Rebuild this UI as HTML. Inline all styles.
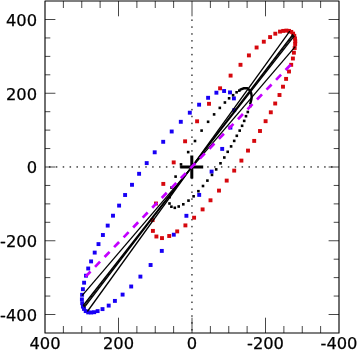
<!DOCTYPE html>
<html><head><meta charset="utf-8"><title>plot</title><style>html,body{margin:0;padding:0;background:#fff}svg{display:block}</style></head><body>
<svg width="357" height="351" viewBox="0 0 357 351">
<rect width="357" height="351" fill="#fff"/>
<g fill="#333"><rect x="331.02" y="166.25" width="1.5" height="1.4"/><rect x="324.14" y="166.25" width="1.5" height="1.4"/><rect x="317.26" y="166.25" width="1.5" height="1.4"/><rect x="310.38" y="166.25" width="1.5" height="1.4"/><rect x="303.50" y="166.25" width="1.5" height="1.4"/><rect x="296.62" y="166.25" width="1.5" height="1.4"/><rect x="289.74" y="166.25" width="1.5" height="1.4"/><rect x="282.86" y="166.25" width="1.5" height="1.4"/><rect x="275.98" y="166.25" width="1.5" height="1.4"/><rect x="269.10" y="166.25" width="1.5" height="1.4"/><rect x="262.22" y="166.25" width="1.5" height="1.4"/><rect x="255.34" y="166.25" width="1.5" height="1.4"/><rect x="248.46" y="166.25" width="1.5" height="1.4"/><rect x="241.58" y="166.25" width="1.5" height="1.4"/><rect x="234.70" y="166.25" width="1.5" height="1.4"/><rect x="227.82" y="166.25" width="1.5" height="1.4"/><rect x="220.94" y="166.25" width="1.5" height="1.4"/><rect x="214.06" y="166.25" width="1.5" height="1.4"/><rect x="207.18" y="166.25" width="1.5" height="1.4"/><rect x="200.30" y="166.25" width="1.5" height="1.4"/><rect x="193.42" y="166.25" width="1.5" height="1.4"/><rect x="186.54" y="166.25" width="1.5" height="1.4"/><rect x="179.66" y="166.25" width="1.5" height="1.4"/><rect x="172.78" y="166.25" width="1.5" height="1.4"/><rect x="165.90" y="166.25" width="1.5" height="1.4"/><rect x="159.02" y="166.25" width="1.5" height="1.4"/><rect x="152.14" y="166.25" width="1.5" height="1.4"/><rect x="145.26" y="166.25" width="1.5" height="1.4"/><rect x="138.38" y="166.25" width="1.5" height="1.4"/><rect x="131.50" y="166.25" width="1.5" height="1.4"/><rect x="124.62" y="166.25" width="1.5" height="1.4"/><rect x="117.74" y="166.25" width="1.5" height="1.4"/><rect x="110.86" y="166.25" width="1.5" height="1.4"/><rect x="103.98" y="166.25" width="1.5" height="1.4"/><rect x="97.10" y="166.25" width="1.5" height="1.4"/><rect x="90.22" y="166.25" width="1.5" height="1.4"/><rect x="83.34" y="166.25" width="1.5" height="1.4"/><rect x="76.46" y="166.25" width="1.5" height="1.4"/><rect x="69.58" y="166.25" width="1.5" height="1.4"/><rect x="62.70" y="166.25" width="1.5" height="1.4"/><rect x="55.82" y="166.25" width="1.5" height="1.4"/><rect x="48.94" y="166.25" width="1.5" height="1.4"/><rect x="191.25" y="19.45" width="1.4" height="1.5"/><rect x="191.25" y="26.33" width="1.4" height="1.5"/><rect x="191.25" y="33.21" width="1.4" height="1.5"/><rect x="191.25" y="40.09" width="1.4" height="1.5"/><rect x="191.25" y="46.97" width="1.4" height="1.5"/><rect x="191.25" y="53.85" width="1.4" height="1.5"/><rect x="191.25" y="60.73" width="1.4" height="1.5"/><rect x="191.25" y="67.61" width="1.4" height="1.5"/><rect x="191.25" y="74.49" width="1.4" height="1.5"/><rect x="191.25" y="81.37" width="1.4" height="1.5"/><rect x="191.25" y="88.25" width="1.4" height="1.5"/><rect x="191.25" y="95.13" width="1.4" height="1.5"/><rect x="191.25" y="102.01" width="1.4" height="1.5"/><rect x="191.25" y="108.89" width="1.4" height="1.5"/><rect x="191.25" y="115.77" width="1.4" height="1.5"/><rect x="191.25" y="122.65" width="1.4" height="1.5"/><rect x="191.25" y="129.53" width="1.4" height="1.5"/><rect x="191.25" y="136.41" width="1.4" height="1.5"/><rect x="191.25" y="143.29" width="1.4" height="1.5"/><rect x="191.25" y="150.17" width="1.4" height="1.5"/><rect x="191.25" y="157.05" width="1.4" height="1.5"/><rect x="191.25" y="163.93" width="1.4" height="1.5"/><rect x="191.25" y="170.81" width="1.4" height="1.5"/><rect x="191.25" y="177.69" width="1.4" height="1.5"/><rect x="191.25" y="184.57" width="1.4" height="1.5"/><rect x="191.25" y="191.45" width="1.4" height="1.5"/><rect x="191.25" y="198.33" width="1.4" height="1.5"/><rect x="191.25" y="205.21" width="1.4" height="1.5"/><rect x="191.25" y="212.09" width="1.4" height="1.5"/><rect x="191.25" y="218.97" width="1.4" height="1.5"/><rect x="191.25" y="225.85" width="1.4" height="1.5"/><rect x="191.25" y="232.73" width="1.4" height="1.5"/><rect x="191.25" y="239.61" width="1.4" height="1.5"/><rect x="191.25" y="246.49" width="1.4" height="1.5"/><rect x="191.25" y="253.37" width="1.4" height="1.5"/><rect x="191.25" y="260.25" width="1.4" height="1.5"/><rect x="191.25" y="267.13" width="1.4" height="1.5"/><rect x="191.25" y="274.01" width="1.4" height="1.5"/><rect x="191.25" y="280.89" width="1.4" height="1.5"/><rect x="191.25" y="287.77" width="1.4" height="1.5"/><rect x="191.25" y="294.65" width="1.4" height="1.5"/><rect x="191.25" y="301.53" width="1.4" height="1.5"/><rect x="191.25" y="308.41" width="1.4" height="1.5"/><rect x="191.25" y="315.29" width="1.4" height="1.5"/><rect x="191.25" y="322.17" width="1.4" height="1.5"/><rect x="191.25" y="329.05" width="1.4" height="1.5"/></g>
<rect x="45.0" y="1.0" width="294.0" height="332.0" fill="none" stroke="#000" stroke-width="1.12" stroke-linejoin="round"/>
<path d="M320.62 333.0v-7.0M320.62 1.0v7.0M302.25 333.0v-7.0M302.25 1.0v7.0M283.88 333.0v-7.0M283.88 1.0v7.0M265.50 333.0v-15.3M265.50 1.0v15.3M247.12 333.0v-7.0M247.12 1.0v7.0M228.75 333.0v-7.0M228.75 1.0v7.0M210.38 333.0v-7.0M210.38 1.0v7.0M192.00 333.0v-15.3M192.00 1.0v15.3M173.62 333.0v-7.0M173.62 1.0v7.0M155.25 333.0v-7.0M155.25 1.0v7.0M136.88 333.0v-7.0M136.88 1.0v7.0M118.50 333.0v-15.3M118.50 1.0v15.3M100.12 333.0v-7.0M100.12 1.0v7.0M81.75 333.0v-7.0M81.75 1.0v7.0M63.38 333.0v-7.0M63.38 1.0v7.0M45.0 314.50h10.4M339.0 314.50h-10.4M45.0 296.06h5.3M339.0 296.06h-5.3M45.0 277.62h5.3M339.0 277.62h-5.3M45.0 259.19h5.3M339.0 259.19h-5.3M45.0 240.75h10.4M339.0 240.75h-10.4M45.0 222.31h5.3M339.0 222.31h-5.3M45.0 203.88h5.3M339.0 203.88h-5.3M45.0 185.44h5.3M339.0 185.44h-5.3M45.0 167.00h10.4M339.0 167.00h-10.4M45.0 148.56h5.3M339.0 148.56h-5.3M45.0 130.12h5.3M339.0 130.12h-5.3M45.0 111.69h5.3M339.0 111.69h-5.3M45.0 93.25h10.4M339.0 93.25h-10.4M45.0 74.81h5.3M339.0 74.81h-5.3M45.0 56.38h5.3M339.0 56.38h-5.3M45.0 37.94h5.3M339.0 37.94h-5.3M45.0 19.50h10.4M339.0 19.50h-10.4" stroke="#000" stroke-width="0.72" fill="none"/>
<g font-family="DejaVu Sans, Liberation Sans, sans-serif" font-size="16.3" fill="#000" stroke="#000" stroke-width="0.25">
<text x="45.00" y="349.4" text-anchor="middle">400</text>
<text x="37" y="25.80" text-anchor="end">400</text>
<text x="118.50" y="349.4" text-anchor="middle">200</text>
<text x="37" y="99.55" text-anchor="end">200</text>
<text x="192.00" y="349.4" text-anchor="middle">0</text>
<text x="37" y="173.30" text-anchor="end">0</text>
<text x="265.50" y="349.4" text-anchor="middle">-200</text>
<text x="37" y="247.05" text-anchor="end">-200</text>
<text x="339.00" y="349.4" text-anchor="middle">-400</text>
<text x="37" y="320.80" text-anchor="end">-400</text>
</g>
<g fill="#1800f5"><rect x="161.25" y="139.85" width="3.9" height="3.9"/><rect x="169.75" y="129.55" width="3.9" height="3.9"/><rect x="178.85" y="119.85" width="3.9" height="3.9"/><rect x="187.85" y="110.75" width="3.9" height="3.9"/><rect x="197.15" y="102.75" width="3.9" height="3.9"/><rect x="206.15" y="95.85" width="3.9" height="3.9"/><rect x="214.45" y="90.75" width="3.9" height="3.9"/><rect x="222.15" y="89.05" width="3.9" height="3.9"/><rect x="228.05" y="90.45" width="3.9" height="3.9"/><rect x="231.95" y="96.45" width="3.9" height="3.9"/><rect x="232.25" y="108.25" width="3.9" height="3.9"/><rect x="228.45" y="125.65" width="3.9" height="3.9"/><rect x="220.25" y="146.95" width="3.9" height="3.9"/><rect x="209.65" y="169.65" width="3.9" height="3.9"/><rect x="197.25" y="192.95" width="3.9" height="3.9"/><rect x="184.45" y="213.85" width="3.9" height="3.9"/><rect x="171.85" y="232.75" width="3.9" height="3.9"/><rect x="159.85" y="248.95" width="3.9" height="3.9"/><rect x="148.65" y="263.05" width="3.9" height="3.9"/><rect x="138.45" y="274.65" width="3.9" height="3.9"/><rect x="129.25" y="284.55" width="3.9" height="3.9"/><rect x="120.65" y="292.65" width="3.9" height="3.9"/><rect x="112.95" y="298.95" width="3.9" height="3.9"/><rect x="106.75" y="303.65" width="3.9" height="3.9"/><rect x="100.55" y="307.15" width="3.9" height="3.9"/><rect x="95.65" y="309.15" width="3.9" height="3.9"/><rect x="92.25" y="310.25" width="3.9" height="3.9"/><rect x="89.25" y="310.55" width="3.9" height="3.9"/><rect x="86.25" y="310.45" width="3.9" height="3.9"/><rect x="83.75" y="309.15" width="3.9" height="3.9"/><rect x="82.05" y="306.95" width="3.9" height="3.9"/><rect x="80.95" y="304.65" width="3.9" height="3.9"/><rect x="80.25" y="301.25" width="3.9" height="3.9"/><rect x="79.95" y="297.45" width="3.9" height="3.9"/><rect x="80.15" y="292.85" width="3.9" height="3.9"/><rect x="80.95" y="287.25" width="3.9" height="3.9"/><rect x="82.15" y="280.75" width="3.9" height="3.9"/><rect x="84.05" y="273.75" width="3.9" height="3.9"/><rect x="86.25" y="266.55" width="3.9" height="3.9"/><rect x="89.15" y="259.45" width="3.9" height="3.9"/><rect x="92.75" y="250.65" width="3.9" height="3.9"/><rect x="96.55" y="242.15" width="3.9" height="3.9"/><rect x="100.95" y="233.05" width="3.9" height="3.9"/><rect x="105.75" y="223.65" width="3.9" height="3.9"/><rect x="111.05" y="213.75" width="3.9" height="3.9"/><rect x="117.15" y="203.65" width="3.9" height="3.9"/><rect x="123.15" y="193.05" width="3.9" height="3.9"/><rect x="130.05" y="182.85" width="3.9" height="3.9"/><rect x="137.15" y="171.85" width="3.9" height="3.9"/><rect x="144.75" y="161.15" width="3.9" height="3.9"/><rect x="152.75" y="150.35" width="3.9" height="3.9"/></g>
<g fill="#d6080e"><rect x="195.15" y="119.35" width="3.9" height="3.9"/><rect x="207.05" y="101.85" width="3.9" height="3.9"/><rect x="218.15" y="86.35" width="3.9" height="3.9"/><rect x="228.65" y="73.65" width="3.9" height="3.9"/><rect x="238.55" y="62.85" width="3.9" height="3.9"/><rect x="246.95" y="53.45" width="3.9" height="3.9"/><rect x="254.65" y="45.55" width="3.9" height="3.9"/><rect x="261.85" y="39.75" width="3.9" height="3.9"/><rect x="268.15" y="35.15" width="3.9" height="3.9"/><rect x="273.35" y="31.75" width="3.9" height="3.9"/><rect x="278.05" y="29.65" width="3.9" height="3.9"/><rect x="281.25" y="28.95" width="3.9" height="3.9"/><rect x="284.45" y="28.65" width="3.9" height="3.9"/><rect x="287.05" y="28.95" width="3.9" height="3.9"/><rect x="289.35" y="29.95" width="3.9" height="3.9"/><rect x="291.15" y="31.65" width="3.9" height="3.9"/><rect x="292.35" y="33.85" width="3.9" height="3.9"/><rect x="293.05" y="36.55" width="3.9" height="3.9"/><rect x="293.30" y="39.25" width="3.9" height="3.9"/><rect x="293.20" y="42.05" width="3.9" height="3.9"/><rect x="292.75" y="46.05" width="3.9" height="3.9"/><rect x="291.95" y="50.75" width="3.9" height="3.9"/><rect x="290.95" y="56.55" width="3.9" height="3.9"/><rect x="289.25" y="62.85" width="3.9" height="3.9"/><rect x="287.05" y="69.55" width="3.9" height="3.9"/><rect x="284.15" y="76.95" width="3.9" height="3.9"/><rect x="281.05" y="84.75" width="3.9" height="3.9"/><rect x="277.55" y="93.05" width="3.9" height="3.9"/><rect x="273.25" y="101.55" width="3.9" height="3.9"/><rect x="268.85" y="110.35" width="3.9" height="3.9"/><rect x="263.65" y="119.25" width="3.9" height="3.9"/><rect x="258.05" y="129.05" width="3.9" height="3.9"/><rect x="252.25" y="138.95" width="3.9" height="3.9"/><rect x="246.05" y="148.65" width="3.9" height="3.9"/><rect x="239.45" y="158.65" width="3.9" height="3.9"/><rect x="232.25" y="168.65" width="3.9" height="3.9"/><rect x="224.75" y="178.65" width="3.9" height="3.9"/><rect x="217.05" y="188.65" width="3.9" height="3.9"/><rect x="208.55" y="198.35" width="3.9" height="3.9"/><rect x="200.65" y="207.45" width="3.9" height="3.9"/><rect x="192.15" y="215.75" width="3.9" height="3.9"/><rect x="183.45" y="223.45" width="3.9" height="3.9"/><rect x="175.25" y="229.45" width="3.9" height="3.9"/><rect x="167.25" y="234.05" width="3.9" height="3.9"/><rect x="160.05" y="236.15" width="3.9" height="3.9"/><rect x="154.45" y="234.55" width="3.9" height="3.9"/><rect x="150.95" y="228.95" width="3.9" height="3.9"/><rect x="150.65" y="218.15" width="3.9" height="3.9"/><rect x="154.05" y="201.55" width="3.9" height="3.9"/><rect x="161.35" y="181.95" width="3.9" height="3.9"/><rect x="171.75" y="160.45" width="3.9" height="3.9"/><rect x="183.15" y="139.35" width="3.9" height="3.9"/></g>
<g fill="#000"><rect x="168.20" y="202.20" width="2.6" height="2.6"/><rect x="168.30" y="195.90" width="2.6" height="2.6"/><rect x="170.20" y="186.30" width="2.6" height="2.6"/><rect x="174.30" y="175.30" width="2.6" height="2.6"/><rect x="179.70" y="163.10" width="2.6" height="2.6"/><rect x="186.90" y="150.80" width="2.6" height="2.6"/><rect x="193.70" y="139.70" width="2.6" height="2.6"/><rect x="200.30" y="129.30" width="2.6" height="2.6"/><rect x="206.80" y="120.50" width="2.6" height="2.6"/><rect x="212.80" y="113.10" width="2.6" height="2.6"/><rect x="218.50" y="106.60" width="2.6" height="2.6"/><rect x="223.60" y="101.20" width="2.6" height="2.6"/><rect x="227.80" y="97.00" width="2.6" height="2.6"/><rect x="231.80" y="93.90" width="2.6" height="2.6"/><rect x="235.30" y="91.00" width="2.6" height="2.6"/><rect x="238.00" y="89.30" width="2.6" height="2.6"/><rect x="249.00" y="104.70" width="2.6" height="2.6"/><rect x="246.50" y="110.70" width="2.6" height="2.6"/><rect x="244.70" y="114.90" width="2.6" height="2.6"/><rect x="242.90" y="119.60" width="2.6" height="2.6"/><rect x="240.80" y="124.50" width="2.6" height="2.6"/><rect x="238.40" y="129.30" width="2.6" height="2.6"/><rect x="235.50" y="134.50" width="2.6" height="2.6"/><rect x="232.90" y="139.60" width="2.6" height="2.6"/><rect x="229.80" y="145.10" width="2.6" height="2.6"/><rect x="226.40" y="150.50" width="2.6" height="2.6"/><rect x="223.00" y="156.20" width="2.6" height="2.6"/><rect x="219.20" y="162.00" width="2.6" height="2.6"/><rect x="214.90" y="168.10" width="2.6" height="2.6"/><rect x="210.70" y="173.60" width="2.6" height="2.6"/><rect x="206.10" y="179.30" width="2.6" height="2.6"/><rect x="201.70" y="184.70" width="2.6" height="2.6"/><rect x="197.10" y="189.90" width="2.6" height="2.6"/><rect x="192.30" y="195.00" width="2.6" height="2.6"/><rect x="187.20" y="199.30" width="2.6" height="2.6"/><rect x="182.00" y="203.00" width="2.6" height="2.6"/><rect x="177.40" y="205.20" width="2.6" height="2.6"/><rect x="173.50" y="206.50" width="2.6" height="2.6"/><rect x="170.10" y="205.40" width="2.6" height="2.6"/></g>
<path d="M240.8 89.4 L243.8 88.3 L247.2 88.3 L249.8 90.3 L251.2 93.2 L251.7 96.2 L251.5 98.8 L250.9 101.4 L250.4 103.1" fill="none" stroke="#000" stroke-width="2.4" stroke-linecap="square"/>
<path d="M289.8 31.2L87.4 311.5" stroke="#000" stroke-width="1.3" fill="none"/>
<path d="M293.05 34.25L84.35 307.45" stroke="#000" stroke-width="1.3" fill="none"/>
<path d="M293.7 35.05L83.7 306.6" stroke="#000" stroke-width="1.0" fill="none"/>
<path d="M294.35 35.85L83.05 305.75" stroke="#000" stroke-width="1.3" fill="none"/>
<path d="M295.2 46.6L82.1 295.6" stroke="#000" stroke-width="1.3" fill="none"/>
<path d="M180.2 166.9H203.2M191.8 155.5V178.4" stroke="#000" stroke-width="3" fill="none"/>
<path d="M290.6 64.8 L85.6 276.6" stroke="#c400ff" stroke-width="2.7" stroke-dasharray="7.2 6.5" fill="none"/>
</svg>
</body></html>
